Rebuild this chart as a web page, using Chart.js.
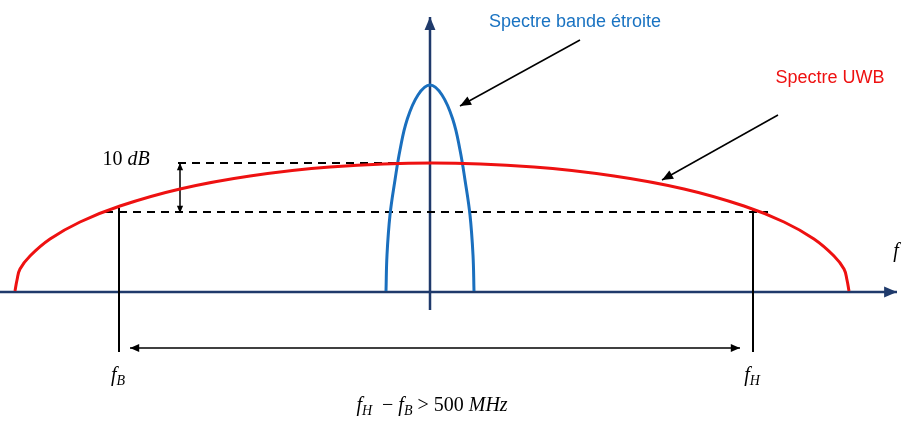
<!DOCTYPE html><html><head><meta charset="utf-8">
<script src="https://cdn.jsdelivr.net/npm/chart.js@4/dist/chart.umd.min.js"></script>
<style>html,body{margin:0;padding:0;background:#fff}#w{width:918px;height:422px}</style></head><body>
<div id="w"><canvas id="c"></canvas></div>
<script>
const uwbX=[15,17,20,30,50,80,120,180,250,330,432,534,614,684,744,784,814,834,844,847,849];
const uwbY=[291,280,269,256,239,222,206,189,176,167,163,167,176,189,206,222,239,256,269,280,291];
const nbX=[386,387,390,395,400,407,418,430,442,453,460,465,470,473,474];
const nbY=[291,255,215,180,150,120,95,85,95,120,150,180,215,255,291];
const labels={nb:"Spectre bande étroite",uwb:"Spectre UWB"};
const pts=(xs,ys)=>xs.map((x,i)=>({x,y:ys[i]}));
function arrow(ctx,x1,y1,x2,y2,s){const a=Math.atan2(y2-y1,x2-x1);ctx.beginPath();ctx.moveTo(x1,y1);ctx.lineTo(x2,y2);ctx.stroke();ctx.beginPath();ctx.moveTo(x2,y2);ctx.lineTo(x2-s*Math.cos(a-0.4),y2-s*Math.sin(a-0.4));ctx.lineTo(x2-s*Math.cos(a+0.4),y2-s*Math.sin(a+0.4));ctx.closePath();ctx.fill();}
function rich(c,parts,x,y){let w=0;parts.forEach(p=>{c.font=p[1];w+=c.measureText(p[0]).width;});let cx=x-w/2;c.textAlign='left';
parts.forEach(p=>{c.font=p[1];c.fillText(p[0],cx,y+(p[2]||0));cx+=c.measureText(p[0]).width;});c.textAlign='center';}
const deco={id:'deco',beforeDatasetsDraw(ch){const c=ch.ctx,X=v=>ch.scales.x.getPixelForValue(v),Y=v=>ch.scales.y.getPixelForValue(v);c.save();
c.strokeStyle='#1f3a6b';c.fillStyle='#1f3a6b';c.lineWidth=2.5;arrow(c,X(0),Y(292),X(897),Y(292),14);arrow(c,X(430),Y(310),X(430),Y(17),14);
c.strokeStyle='#000';c.fillStyle='#000';c.lineWidth=2;c.setLineDash([8,6]);
c.beginPath();c.moveTo(X(178),Y(163));c.lineTo(X(465),Y(163));c.moveTo(X(105),Y(212));c.lineTo(X(768),Y(212));c.stroke();c.setLineDash([]);
c.beginPath();c.moveTo(X(119),Y(208));c.lineTo(X(119),Y(352));c.moveTo(X(753),Y(208));c.lineTo(X(753),Y(352));c.stroke();
c.lineWidth=1.5;arrow(c,X(400),Y(348),X(130),Y(348),10);arrow(c,X(400),Y(348),X(740),Y(348),10);
arrow(c,X(180),Y(188),X(180),Y(163),8);arrow(c,X(180),Y(188),X(180),Y(213),8);
arrow(c,X(580),Y(40),X(460),Y(106),12);arrow(c,X(778),Y(115),X(662),Y(180),12);
c.textBaseline='middle';c.textAlign='center';
const I='italic 20px "Liberation Serif"',S='italic 14px "Liberation Serif"',R='20px "Liberation Serif"';
rich(c,[['10 ',R],['dB',I]],126,160);rich(c,[['f',I]],896,252);
rich(c,[['f',I],['B',S,5]],118,376);rich(c,[['f',I],['H',S,5]],752,376);
rich(c,[['f',I],['H',S,5],['  − ',R],['f',I],['B',S,5],[' > 500 ',R],['MHz',I]],432,406);
c.font='18px "Liberation Sans"';c.fillStyle='#1a73c2';c.fillText(labels.nb,575,22);c.fillStyle='#ee1111';c.fillText(labels.uwb,830,78);
c.restore();}};
new Chart(document.getElementById('c'),{type:'scatter',data:{datasets:[
{data:pts(uwbX,uwbY),showLine:true,borderColor:'#ee1111',borderWidth:3,pointRadius:0,tension:0.4},
{data:pts(nbX,nbY),showLine:true,borderColor:'#1a6fbe',borderWidth:3,pointRadius:0,tension:0.4}]},
options:{responsive:true,maintainAspectRatio:false,animation:false,layout:{padding:0},plugins:{legend:{display:false},tooltip:{enabled:false}},
scales:{x:{type:'linear',min:0,max:918,display:false},y:{min:0,max:422,reverse:true,display:false}}},plugins:[deco]});
</script></body></html>
